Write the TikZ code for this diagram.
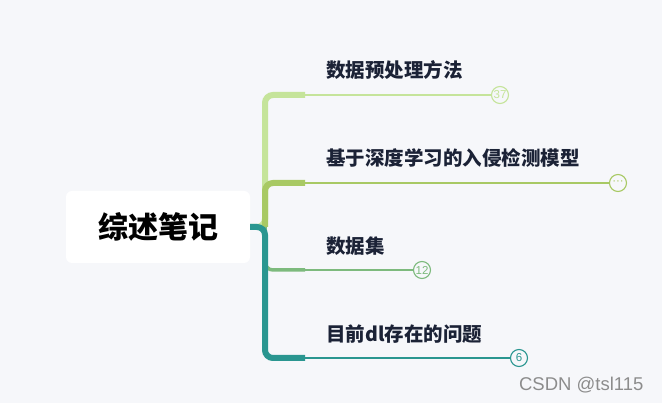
\documentclass[tikz,border=0pt]{standalone}
\usepackage{fontspec}
\setmainfont{Noto Sans CJK SC}
\newfontfamily\wmfont{Liberation Sans}
\definecolor{bgcol}{RGB}{246,247,250}
\definecolor{txtcol}{RGB}{27,34,54}
\definecolor{brA}{RGB}{197,228,154}
\definecolor{brB}{RGB}{168,201,100}
\definecolor{brC}{RGB}{125,186,125}
\definecolor{brD}{RGB}{42,150,144}
\begin{document}
\begin{tikzpicture}[x=1pt,y=-1pt,
    topic/.style={font=\bfseries\fontsize{19.5}{19.5}\selectfont,text=txtcol,anchor=west,inner sep=0pt},
    count/.style={circle,draw=#1,fill=bgcol,text=#1,line width=1.1pt,minimum size=17pt,inner sep=0pt,font=\wmfont\fontsize{11.5}{11.5}\selectfont},
    trunk/.style={draw=#1,line width=6pt,rounded corners=8pt},
    twig/.style={draw=#1,line width=2pt}]
    \fill[bgcol] (0,0) rectangle (662,403);
    \useasboundingbox (0,0) rectangle (662,403);
    % root
    \node [fill=white,rounded corners=6pt,minimum width=184pt,minimum height=72pt,
        font=\bfseries\fontsize{30}{30}\selectfont] (root) at (158,227) {综述笔记};
    \coordinate (j) at (265,227);
    % counters at the ends
    \node [count=brA] (c1) at (500,95) {37};
    \node [count=brB] (c2) at (618,183) {···};
    \node [count=brC] (c3) at (422,270) {12};
    \node [count=brD] (c4) at (519,358) {6};
    \coordinate (k1) at (305,95);
    \coordinate (k2) at (305,183);
    \coordinate (k3) at (305,270);
    \coordinate (k4) at (305,358);
    % branches
    \draw [trunk=brA] (root.east) -- (j) |- (k1);
    \draw [twig=brA] (k1) -- (c1);
    \draw [trunk=brB] (j) |- (k2);
    \draw [twig=brB] (k2) -- (c2);
    \draw [trunk=brC,line width=3.5pt] (j) |- (k3);
    \draw [twig=brC] (k3) -- (c3);
    \draw [trunk=brD] (root.east) -- (j) |- (k4);
    \draw [twig=brD] (k4) -- (c4);
    % topics
    \node [topic] (t1) at (326,70) {数据预处理方法};
    \node [topic] (t2) at (326,158) {基于深度学习的入侵检测模型};
    \node [topic] (t3) at (326,246) {数据集};
    \node [topic] (t4) at (326,334) {目前dl存在的问题};
    \node [font=\wmfont\fontsize{18.5}{18.5}\selectfont,text=black!45,anchor=east] (wm) at (647,385) {CSDN @tsl115};
\end{tikzpicture}
\end{document}
